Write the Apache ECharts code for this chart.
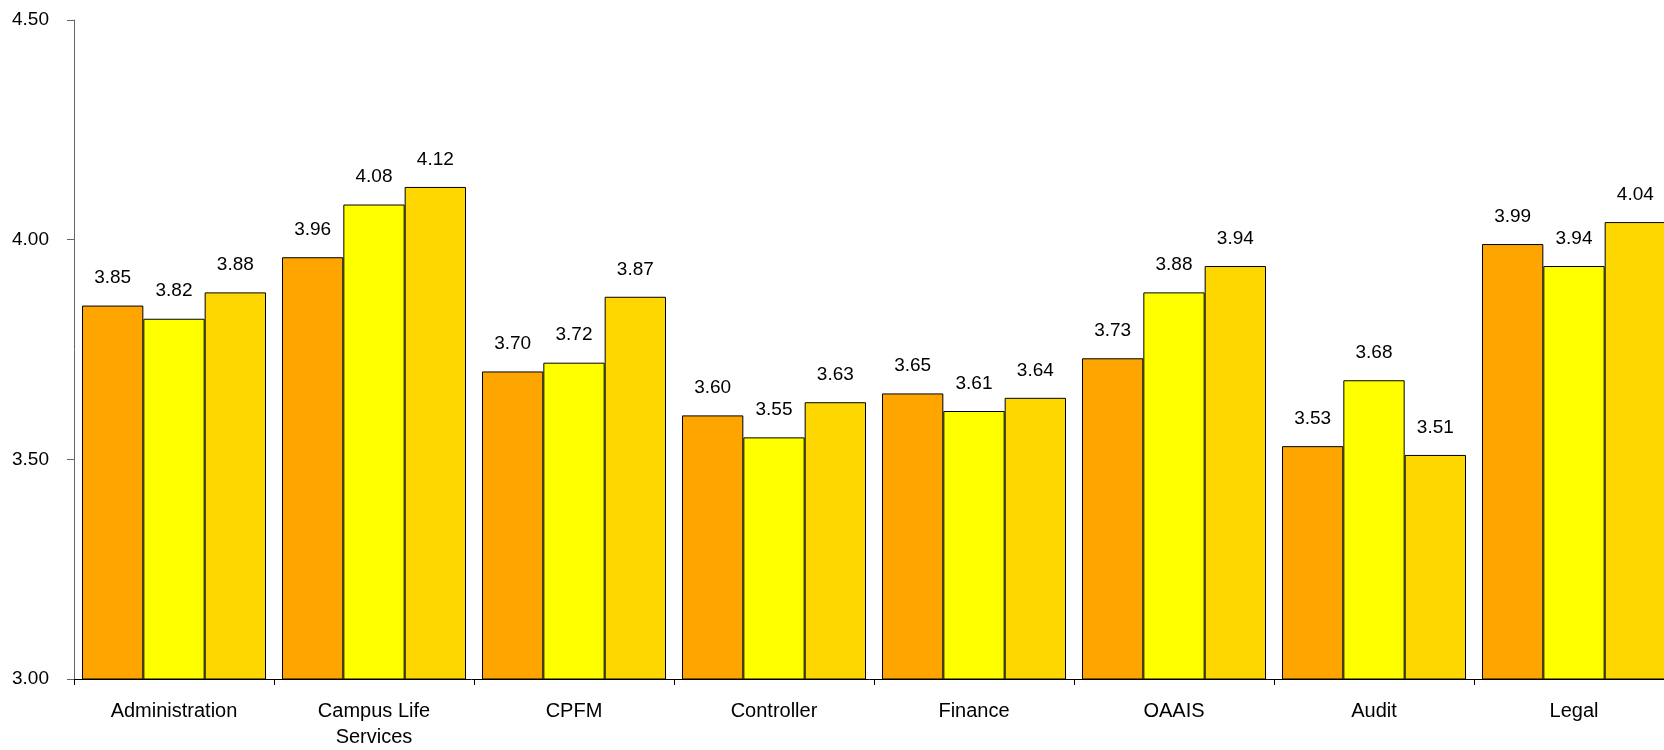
<!DOCTYPE html>
<html>
<head>
<meta charset="utf-8">
<script src="https://cdn.jsdelivr.net/npm/echarts@6/dist/echarts.min.js"></script>
<style>
  html, body { margin: 0; padding: 0; background: #ffffff; }
  #chart { width: 1664px; height: 750px; }
</style>
</head>
<body>
<div id="chart"></div>
<script>
// Department categories and three series of mean scores
const categories = ['Administration', 'Campus Life\nServices', 'CPFM', 'Controller', 'Finance', 'OAAIS', 'Audit', 'Legal'];
const seriesA = [3.85, 3.96, 3.70, 3.60, 3.65, 3.73, 3.53, 3.99];
const seriesB = [3.82, 4.08, 3.72, 3.55, 3.61, 3.88, 3.68, 3.94];
const seriesC = [3.88, 4.12, 3.87, 3.63, 3.64, 3.94, 3.51, 4.04];
const yTicks = [3.00, 3.50, 4.00, 4.50];

const colors = ['#FFA500', '#FFFF00', '#FFD700'];
const fontFamily = '"Liberation Sans", Arial, sans-serif';

function makeSeries(data, color) {
  return {
    type: 'bar',
    data: data,
    barGap: '0%',
    barCategoryGap: '8%',
    itemStyle: { color: color, borderColor: '#000000', borderWidth: 1 },
    label: {
      show: true,
      position: 'top',
      distance: 18,
      color: '#000000',
      fontFamily: fontFamily,
      fontSize: 19,
      formatter: p => p.value.toFixed(2)
    },
    emphasis: { disabled: true }
  };
}

const chart = echarts.init(document.getElementById('chart'), null, { renderer: 'canvas' });
chart.setOption({
  animation: false,
  backgroundColor: '#ffffff',
  // the last category runs slightly past the right edge of the canvas
  grid: { left: 74, width: 1600, top: 20, bottom: 71, containLabel: false, outerBoundsMode: 'none' },
  xAxis: {
    type: 'category',
    data: categories,
    axisLine: { show: true, lineStyle: { color: '#000000', width: 1 } },
    axisTick: { show: true, length: 6, lineStyle: { color: '#000000' } },
    axisLabel: {
      color: '#000000',
      fontFamily: fontFamily,
      fontSize: 20,
      margin: 19,
      lineHeight: 26
    },
    splitLine: { show: false }
  },
  yAxis: {
    type: 'value',
    min: yTicks[0],
    max: yTicks[yTicks.length - 1],
    interval: 0.5,
    axisLine: { show: true, lineStyle: { color: '#666666', width: 1 } },
    axisTick: { show: true, length: 7, lineStyle: { color: '#666666' } },
    axisLabel: {
      color: '#000000',
      fontFamily: fontFamily,
      fontSize: 19,
      margin: 25,
      formatter: v => v.toFixed(2)
    },
    splitLine: { show: false }
  },
  series: [
    makeSeries(seriesA, colors[0]),
    makeSeries(seriesB, colors[1]),
    makeSeries(seriesC, colors[2])
  ]
});
</script>
</body>
</html>
